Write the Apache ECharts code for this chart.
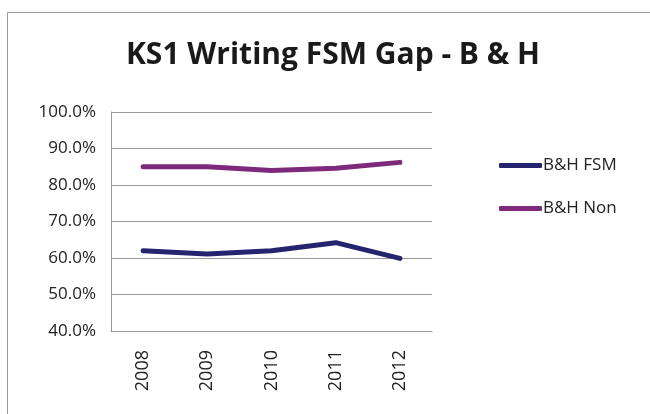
<!DOCTYPE html>
<html>
<head>
<meta charset="utf-8">
<script src="https://cdn.jsdelivr.net/npm/echarts@6/dist/echarts.min.js"></script>
<style>
  html, body { margin: 0; padding: 0; background: #fff; }
  #chart { width: 650px; height: 414px; }
</style>
</head>
<body>
<div id="chart"></div>
<script>
// values
const years = ['2008', '2009', '2010', '2011', '2012'];
const fsm = [62.0, 61.1, 62.0, 64.2, 59.9];
const nonFsm = [85.0, 85.0, 84.0, 84.6, 86.2];
const seriesNames = ['B&H FSM', 'B&H Non'];
const colors = ['#25256f', '#7e2a7c'];

const chart = echarts.init(document.getElementById('chart'));

const option = {
  animation: false,
  backgroundColor: '#fff',
  textStyle: { fontFamily: 'Open Sans, sans-serif' },
  title: {
    text: 'KS1 Writing FSM Gap - B & H',
    left: 328,
    top: 35,
    textAlign: 'center',
    textStyle: {
      fontFamily: 'Open Sans, sans-serif',
      fontSize: 30,
      fontWeight: 'bold',
      color: '#1a1a1a'
    }
  },
  // outer chart frame (only top and left edges show in the picture)
  graphic: [{
    type: 'rect',
    shape: { x: 7.5, y: 12.5, width: 800, height: 600 },
    style: { fill: 'none', stroke: '#999', lineWidth: 1 },
    silent: true
  }],
  legend: {
    orient: 'vertical',
    left: 494,
    top: 152,
    icon: 'roundRect',
    itemWidth: 43,
    itemHeight: 5,
    itemGap: 26,
    data: seriesNames,
    textStyle: { fontSize: 17, color: '#222', padding: [0, 0, 0, -4] }
  },
  grid: {
    left: 111,
    right: 218,
    top: 112,
    bottom: 83,
    containLabel: false
  },
  xAxis: {
    type: 'category',
    data: years,
    boundaryGap: true,
    axisLine: { lineStyle: { color: '#999' } },
    axisTick: { show: false },
    axisLabel: {
      rotate: 90,
      margin: 19,
      fontSize: 18,
      color: '#222'
    }
  },
  yAxis: {
    type: 'value',
    min: 40,
    max: 100,
    interval: 10,
    axisLine: { show: true, lineStyle: { color: '#999' } },
    axisTick: { show: false },
    splitLine: { lineStyle: { color: '#999' } },
    axisLabel: {
      margin: 15,
      fontSize: 17,
      color: '#222',
      formatter: v => v.toFixed(1) + '%'
    }
  },
  series: [
    {
      name: seriesNames[0],
      type: 'line',
      data: fsm,
      symbol: 'none',
      lineStyle: { color: colors[0], width: 5, cap: 'round', join: 'round' },
      itemStyle: { color: colors[0] }
    },
    {
      name: seriesNames[1],
      type: 'line',
      data: nonFsm,
      symbol: 'none',
      lineStyle: { color: colors[1], width: 5, cap: 'round', join: 'round' },
      itemStyle: { color: colors[1] }
    }
  ]
};

chart.setOption(option);
</script>
</body>
</html>
